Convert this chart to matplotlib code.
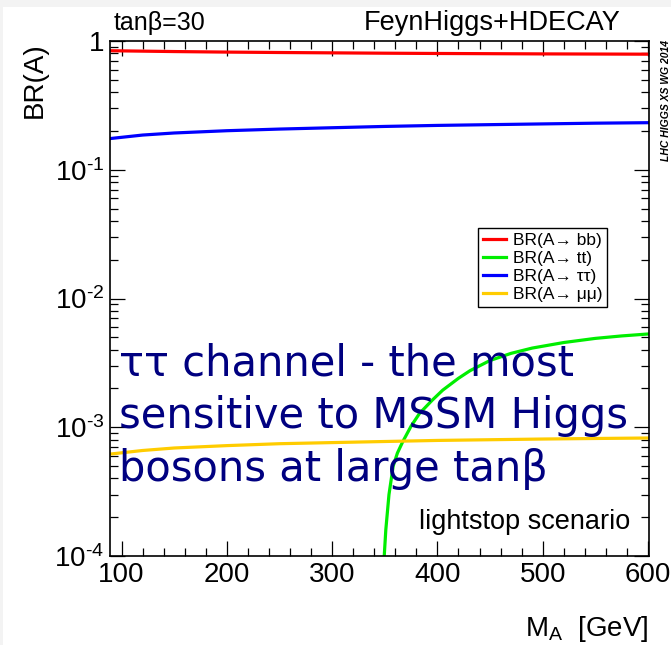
import matplotlib
matplotlib.use('Agg')
import matplotlib.pyplot as plt
from matplotlib.patches import Rectangle
from matplotlib.ticker import MultipleLocator, LogLocator, NullFormatter

plt.rcParams['font.family'] = ['Liberation Sans', 'DejaVu Sans']
plt.rcParams['mathtext.fontset'] = 'custom'
plt.rcParams['mathtext.rm'] = 'Liberation Sans'
plt.rcParams['mathtext.it'] = 'Liberation Sans:italic'
plt.rcParams['mathtext.bf'] = 'Liberation Sans:bold'

# A boson branching ratios vs M_A (tan beta = 30, lightstop scenario)
ma_light = [90, 120, 150, 200, 250, 300, 350, 400, 450, 500, 550, 600]
br_bb = [0.840, 0.834, 0.828, 0.820, 0.814, 0.809, 0.804, 0.800, 0.797, 0.794, 0.792, 0.790]
br_tautau = [0.175, 0.186, 0.193, 0.201, 0.207, 0.212, 0.217, 0.221, 0.224, 0.227, 0.230, 0.232]
br_mumu = [6.2e-4, 6.6e-4, 6.9e-4, 7.2e-4, 7.45e-4, 7.6e-4, 7.75e-4, 7.9e-4, 8.0e-4, 8.1e-4, 8.18e-4, 8.25e-4]

ma_top = [348, 349.5, 351, 354, 358, 362, 367, 375, 383, 395, 405, 420, 431, 450,
          470, 490, 520, 550, 575, 600]
br_tt = [8e-5, 1.0e-4, 1.6e-4, 3.0e-4, 5.0e-4, 6.3e-4, 7.7e-4, 1.02e-3, 1.28e-3, 1.62e-3,
         1.94e-3, 2.4e-3, 2.75e-3, 3.3e-3, 3.75e-3, 4.12e-3, 4.55e-3, 4.9e-3, 5.12e-3, 5.3e-3]

xticks = [100, 200, 300, 400, 500, 600]
yticks = [1e-4, 1e-3, 1e-2, 1e-1, 1]
ytick_labels = [r'$\mathregular{10^{\text{-}4}}$', r'$\mathregular{10^{\text{-}3}}$',
                r'$\mathregular{10^{\text{-}2}}$', r'$\mathregular{10^{\text{-}1}}$', '1']

W, H = 671, 645
fig = plt.figure(figsize=(W / 100, H / 100), dpi=100, facecolor='#f3f3f3')
fig.patches.append(Rectangle((3 / W, 0), 1, 1 - 7 / H, transform=fig.transFigure,
                             facecolor='white', edgecolor='none', zorder=-10))


def fx(px):
    return px / W


def fy(py):
    return 1 - py / H


ax = fig.add_axes([fx(110), fy(556), (649 - 110) / W, (556 - 41) / H])
ax.set_yscale('log')
ax.set_xlim(89, 601)
ax.set_ylim(1e-4, 1)

lw = 2.3
ax.plot(ma_light, br_bb, color='#ff0000', lw=lw, label='BR(A→ bb)')
ax.plot(ma_top, br_tt, color='#00ee00', lw=lw, label='BR(A→ tt)')
ax.plot(ma_light, br_tautau, color='#0000ff', lw=lw, label='BR(A→ ττ)')
ax.plot(ma_light, br_mumu, color='#ffcc00', lw=lw, label='BR(A→ μμ)')

for side in ax.spines.values():
    side.set_linewidth(1.2)

ax.set_xticks(xticks)
ax.set_xticklabels([str(t) for t in xticks])
ax.xaxis.set_minor_locator(MultipleLocator(20))
ax.set_yticks(yticks)
ax.set_yticklabels(ytick_labels)
ax.yaxis.set_minor_locator(LogLocator(base=10, subs=range(2, 10)))
ax.yaxis.set_minor_formatter(NullFormatter())
ax.tick_params(which='both', direction='in', top=True, right=True, width=0.9)
ax.tick_params(which='major', length=11, labelsize=20, pad=4)
ax.tick_params(which='minor', length=6)

leg = ax.legend(loc='upper left', bbox_to_anchor=(fx(478), fy(228)),
                bbox_transform=fig.transFigure, fontsize=12.5, frameon=True,
                fancybox=False, framealpha=1, edgecolor='black',
                handlelength=1.3, handletextpad=0.4, labelspacing=0.16,
                borderpad=0.3, borderaxespad=0)
leg.get_frame().set_linewidth(1.0)

fig.text(fx(114), fy(30), 'tanβ=30', fontsize=18, ha='left', va='baseline')
fig.text(fx(621), fy(30), 'FeynHiggs+HDECAY', fontsize=19.5, ha='right', va='baseline')
fig.text(fx(35), fy(42), 'BR(A)', fontsize=20, rotation=90, ha='center', va='top')
fig.text(fx(648), fy(636), r'$\mathregular{M_{A}}$  [GeV]', fontsize=20,
         ha='right', va='baseline')
fig.text(fx(630), fy(529), 'lightstop scenario', fontsize=19.5, ha='right', va='baseline')
fig.text(fx(666), fy(40), 'LHC HIGGS XS WG 2014', fontsize=7.5, fontweight='bold',
         fontstyle='italic', rotation=90, ha='center', va='top')

navy_lines = ['ττ channel - the most', 'sensitive to MSSM Higgs', 'bosons at large tanβ']
for i, line in enumerate(navy_lines):
    fig.text(fx(119), fy(375 + 53 * i), line, fontsize=30, color='#000080',
             family='DejaVu Sans', ha='left', va='baseline')

fig.savefig('out.png', dpi=100, facecolor=fig.get_facecolor())
